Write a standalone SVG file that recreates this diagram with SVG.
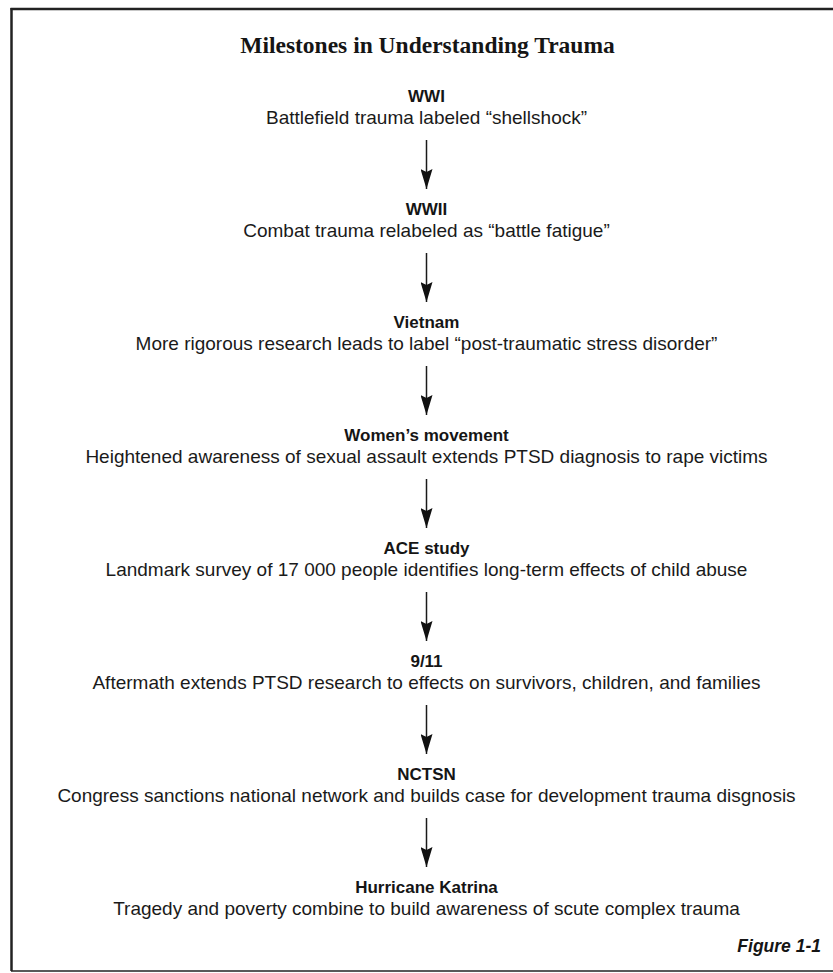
<svg xmlns="http://www.w3.org/2000/svg" width="833" height="973" viewBox="0 0 833 973">
<style>
.title{font-family:"Liberation Serif","Times New Roman",serif;font-weight:bold;font-size:23.5px;fill:#151515;text-anchor:middle}
.h{font-family:"Liberation Sans",Arial,sans-serif;font-weight:bold;font-size:17px;fill:#151515;text-anchor:middle}
.b{font-family:"Liberation Sans",Arial,sans-serif;font-size:19px;fill:#1a1a1a;text-anchor:middle}
.fig{font-family:"Liberation Sans",Arial,sans-serif;font-weight:bold;font-style:italic;font-size:17.5px;fill:#151515;text-anchor:end}
.conn line{stroke:#1a1a1a;stroke-width:1.5;marker-end:url(#ah)}
.frame{stroke:#222;fill:none}
</style>
<defs>
<marker id="ah" markerUnits="userSpaceOnUse" markerWidth="20" markerHeight="12" refX="20" refY="6" orient="auto">
<path d="M0,0 L20,6 L0,12 L3,6 Z" fill="#111"/>
</marker>
</defs>
<rect width="833" height="973" fill="#fff"/>
<g id="frame">
<line class="frame" x1="10.5" y1="9" x2="833" y2="9" stroke-width="2.5"/>
<line class="frame" x1="11.5" y1="8" x2="11.5" y2="971" stroke-width="2.5"/>
<line class="frame" x1="11" y1="971" x2="833" y2="971" stroke-width="1.5" stroke="#666"/>
</g>
<g id="title"><text class="title" x="427.5" y="53">Milestones in Understanding Trauma</text></g>
<g id="n1"><text class="h" x="426.5" y="102">WWI</text><text class="b" x="426.5" y="124">Battlefield trauma labeled “shellshock”</text></g>
<g id="n2"><text class="h" x="426.5" y="215">WWII</text><text class="b" x="426.5" y="237">Combat trauma relabeled as “battle fatigue”</text></g>
<g id="n3"><text class="h" x="426.5" y="328">Vietnam</text><text class="b" x="426.5" y="350">More rigorous research leads to label “post-traumatic stress disorder”</text></g>
<g id="n4"><text class="h" x="426.5" y="441">Women’s movement</text><text class="b" x="426.5" y="463">Heightened awareness of sexual assault extends PTSD diagnosis to rape victims</text></g>
<g id="n5"><text class="h" x="426.5" y="554">ACE study</text><text class="b" x="426.5" y="576">Landmark survey of 17 000 people identifies long-term effects of child abuse</text></g>
<g id="n6"><text class="h" x="426.5" y="667">9/11</text><text class="b" x="426.5" y="689">Aftermath extends PTSD research to effects on survivors, children, and families</text></g>
<g id="n7"><text class="h" x="426.5" y="780">NCTSN</text><text class="b" x="426.5" y="802">Congress sanctions national network and builds case for development trauma disgnosis</text></g>
<g id="n8"><text class="h" x="426.5" y="893">Hurricane Katrina</text><text class="b" x="426.5" y="915">Tragedy and poverty combine to build awareness of scute complex trauma</text></g>
<g id="caption"><text class="fig" x="821" y="952">Figure 1-1</text></g>
<g id="connectors" class="conn">
<line x1="426.5" y1="140" x2="426.5" y2="189"/>
<line x1="426.5" y1="253" x2="426.5" y2="302"/>
<line x1="426.5" y1="366" x2="426.5" y2="415"/>
<line x1="426.5" y1="479" x2="426.5" y2="528"/>
<line x1="426.5" y1="592" x2="426.5" y2="641"/>
<line x1="426.5" y1="705" x2="426.5" y2="754"/>
<line x1="426.5" y1="818" x2="426.5" y2="867"/>
</g>
</svg>
